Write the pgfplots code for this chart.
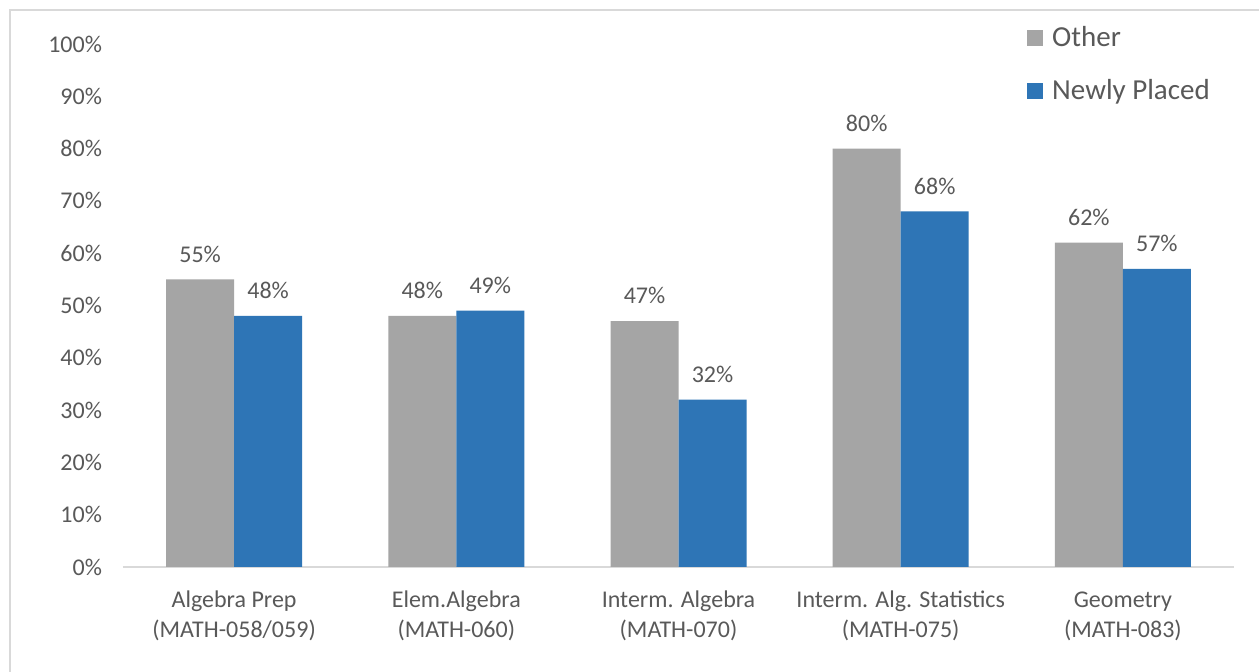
\documentclass[border=0pt]{standalone}
\usepackage{pgfplots}
\pgfplotsset{compat=1.18}
\usepackage{fontspec}
\setmainfont{Carlito}
\definecolor{barGray}{HTML}{A5A5A5}
\definecolor{barBlue}{HTML}{2E75B6}
\definecolor{txt}{HTML}{595959}
\definecolor{frame}{HTML}{D9D9D9}
\begin{document}
\begin{tikzpicture}
\useasboundingbox (0,0) rectangle (629.5pt,336pt);
\fill[white] (0,0) rectangle (629.5pt,336pt);
\draw[frame, line width=0.75pt] (5pt,-20pt) rectangle (650pt,331pt);
\begin{axis}[
  at={(61.5pt,52.5pt)}, anchor=south west,
  scale only axis,
  width=555.5pt, height=261.5pt,
  xmin=-0.5, xmax=4.5, ymin=0, ymax=100,
  axis x line*=bottom, axis y line*=left,
  y axis line style={draw=none},
  x axis line style={frame, line width=0.9pt},
  major tick length=0pt,
  xtick={0,1,2,3,4},
  xticklabels={{\strut Algebra Prep\\\strut (MATH-058/059)},{\strut Elem.Algebra\\\strut (MATH-060)},{\strut Interm. Algebra\\\strut (MATH-070)},{\strut Interm. Alg. Statistics\\\strut (MATH-075)},{\strut Geometry\\\strut (MATH-083)}},
  xticklabel style={align=center, anchor=north, font=\fontsize{12}{15}\selectfont, text=txt, yshift=-6pt},
  ytick distance=10,
  yticklabel={\pgfmathprintnumber{\tick}\%},
  yticklabel style={font=\fontsize{12}{14}\selectfont, text=txt, xshift=-7pt},
  /pgf/number format/assume math mode=true,
  ybar, bar width=34pt,
  nodes near coords={\pgfmathprintnumber{\pgfplotspointmeta}\%},
  nodes near coords style={font=\fontsize{12}{14}\selectfont, text=txt, anchor=south, yshift=5pt},
  legend style={at={(0.8135,1.04)}, anchor=north west, draw=none, fill=none,
    font=\fontsize{14.5}{16}\selectfont, text=txt, row sep=12pt, inner sep=0pt,
    nodes={inner sep=1.5pt}},
  legend cell align=left,
  legend image code/.code={\fill[#1] (0pt,-4pt) rectangle (8pt,4pt);},
  clip=false,
]
\addplot[fill=barGray, draw=none, bar shift=-17pt] coordinates {(0,55) (1,48) (2,47) (3,80) (4,62)};
\addlegendentry{\hspace{3pt}Other}
\addplot[fill=barBlue, draw=none, bar shift=17pt] coordinates {(0,48) (1,49) (2,32) (3,68) (4,57)};
\addlegendentry{\hspace{3pt}Newly Placed}
\end{axis}
\end{tikzpicture}
\end{document}
